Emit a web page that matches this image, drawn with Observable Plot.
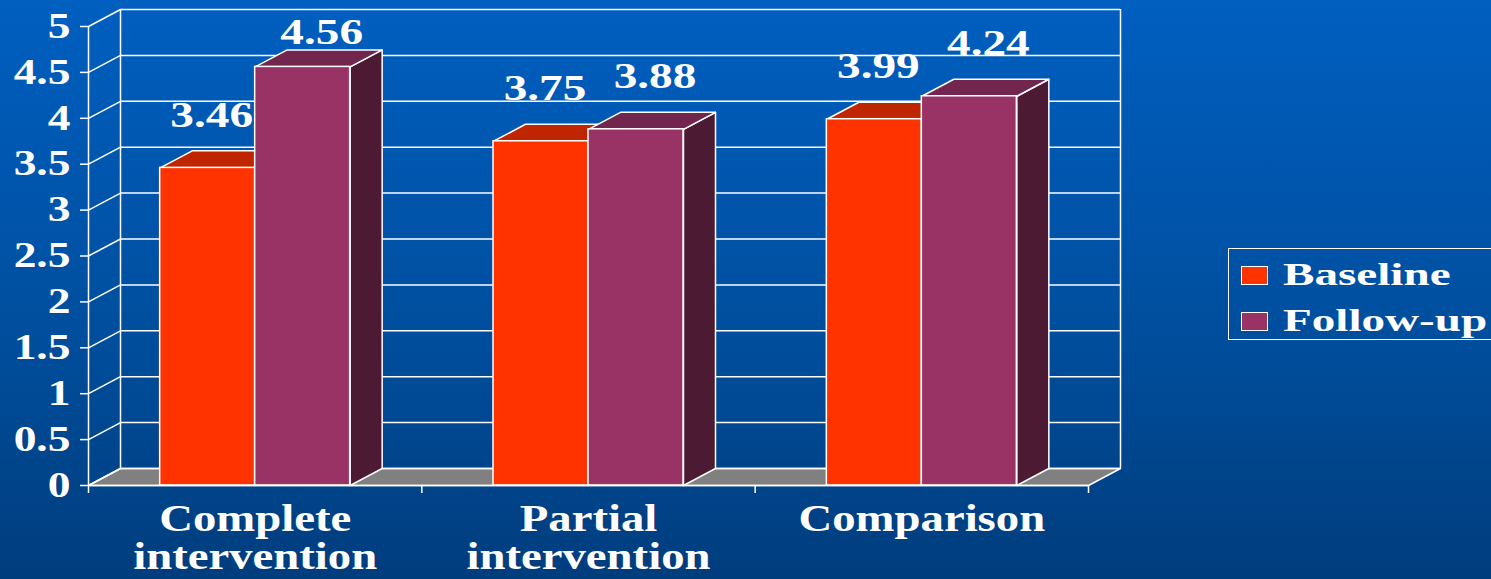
<!DOCTYPE html>
<html><head><meta charset="utf-8">
<script src="https://cdn.jsdelivr.net/npm/d3@7"></script>
<script src="https://cdn.jsdelivr.net/npm/@observablehq/plot@0.6"></script>
<style>
html,body{margin:0;padding:0;width:1491px;height:579px;overflow:hidden;background:linear-gradient(to bottom,#005fc0 0%,#004f9f 55%,#003d7d 100%);}
#chart{position:absolute;left:0;top:0;}
#legend{position:absolute;left:1228px;top:248px;width:290px;height:92px;border:1.5px solid #fff;box-sizing:border-box;font-family:"Liberation Serif","Times New Roman",serif;font-weight:bold;color:#fff;}
.item{position:absolute;left:12px;height:30px;display:flex;align-items:center;}
.sw{width:27px;height:19px;border:1.5px solid #fff;box-sizing:border-box;margin-right:15px;flex:none;}
.lab{font-size:31px;transform:scaleX(1.52);transform-origin:left center;white-space:nowrap;}
</style></head><body>
<div id="chart"></div><div id="legend"></div>
<script>
// ---- data ----
const categories = ["Complete\nintervention", "Partial\nintervention", "Comparison"];
const seriesNames = ["Baseline", "Follow-up"];
const baseline = [3.46, 3.75, 3.99];
const followUp = [4.56, 3.88, 4.24];
const yTicks = [0, 0.5, 1, 1.5, 2, 2.5, 3, 3.5, 4, 4.5, 5];
const yTickLabels = ["0", "0.5", "1", "1.5", "2", "2.5", "3", "3.5", "4", "4.5", "5"];
const xTicks = [0, 1, 2, 3];

// ---- styling / layout ----
const frontColors = ["#ff3300", "#993366"];
const topColors = ["#bf2600", "#73264d"];
const sideColors = ["#801a00", "#4d1a33"];
const font = "'Liberation Serif','Times New Roman',serif";
const W = 1491, H = 579;
const mL = 88, mR = 403, mT = 26, mB = 94;
const pxPerX = (W - mL - mR) / 3, pxPerY = (H - mT - mB) / 5;
const DX = 32 / pxPerX, DY = 17 / pxPerY;   // 3D depth in data units
const BAR_OFF = 0.215, BAR_W = 0.285;

const series = [baseline, followUp];
const marks = [];

// floor
const floor = [{x: 0, y: 0}, {x: 3, y: 0}, {x: 3 + DX, y: DY}, {x: DX, y: DY}];
marks.push(Plot.line(floor, {x: "x", y: "y", fill: "#808080", stroke: "white", strokeWidth: 1.5, curve: "linear-closed"}));
// back wall gridlines
marks.push(Plot.ruleY(yTicks, {y: d => d + DY, x1: DX, x2: 3 + DX, stroke: "white", strokeWidth: 1.5}));
// back wall verticals
marks.push(Plot.ruleX([DX, 3 + DX], {x: d => d, y1: DY, y2: 5 + DY, stroke: "white", strokeWidth: 1.5}));
// left wall diagonals
marks.push(Plot.link(yTicks, {x1: () => 0, y1: d => d, x2: () => DX, y2: d => d + DY, stroke: "white", strokeWidth: 1.5}));

// bars
series.forEach((vals, s) => {
  const sides = [], tops = [], fronts = [];
  vals.forEach((v, i) => {
    const x0 = i + BAR_OFF + s * BAR_W, x1 = x0 + BAR_W;
    const id = s + "-" + i;
    sides.push({id, x: x1, y: 0}, {id, x: x1 + DX, y: DY}, {id, x: x1 + DX, y: v + DY}, {id, x: x1, y: v});
    tops.push({id, x: x0, y: v}, {id, x: x1, y: v}, {id, x: x1 + DX, y: v + DY}, {id, x: x0 + DX, y: v + DY});
    fronts.push({x1: x0, x2: x1, v});
  });
  marks.push(Plot.line(sides, {x: "x", y: "y", z: "id", fill: sideColors[s], stroke: "white", strokeWidth: 1.5, curve: "linear-closed"}));
  marks.push(Plot.line(tops, {x: "x", y: "y", z: "id", fill: topColors[s], stroke: "white", strokeWidth: 1.5, curve: "linear-closed"}));
  marks.push(Plot.rectY(fronts, {x1: "x1", x2: "x2", y1: () => 0, y2: "v", fill: frontColors[s], stroke: "white", strokeWidth: 1.5}));
});

// front axes lines
marks.push(Plot.ruleX([0], {y1: 0, y2: 5, stroke: "white", strokeWidth: 1.5}));
marks.push(Plot.ruleY([0], {x1: 0, x2: 3, stroke: "white", strokeWidth: 1.5}));

// value labels
series.forEach((vals, s) => {
  marks.push(Plot.text(vals, {
    x: (v, i) => i + BAR_OFF + s * BAR_W + BAR_W / 2,
    y: v => Math.min(v + 0.57, 4.93),
    text: d3.format(".2f"),
    dx: s === 0 ? 4 : 19,
    fontSize: 35, fontWeight: "bold", fontFamily: font, fill: "white",
    ariaDescription: "values"
  }));
});

// axes
marks.push(Plot.axisY(yTicks, {anchor: "left", tickSize: 8, tickPadding: 10, strokeWidth: 1.5,
  tickFormat: d => yTickLabels[yTicks.indexOf(d)], fontSize: 35, fontWeight: "bold", fontFamily: font, color: "white"}));
marks.push(Plot.axisX(xTicks, {anchor: "bottom", tickSize: 8, strokeWidth: 1.5, tickFormat: () => "", color: "white"}));
marks.push(Plot.text(categories, {
  x: (d, i) => i + 0.5, y: () => 0, text: d => d, dy: 19, lineAnchor: "top", lineHeight: 1.0,
  fontSize: 38, fontWeight: "bold", fontFamily: font, fill: "white", ariaDescription: "cats"
}));

const chart = Plot.plot({
  width: W, height: H,
  marginLeft: mL, marginRight: mR, marginTop: mT, marginBottom: mB,
  x: {domain: [0, 3]},
  y: {domain: [0, 5]},
  style: {background: "transparent", color: "white", overflow: "visible"},
  marks
});
document.getElementById("chart").appendChild(chart);

// horizontal stretch of text as in the original slide
function stretch(sel, s) {
  chart.querySelectorAll(sel).forEach(t => {
    t.setAttribute("transform", (t.getAttribute("transform") || "") + ` scale(${s},1)`);
  });
}
stretch('g[aria-label="y-axis tick label"] text', 1.3);
stretch('g[aria-description="values"] text', 1.35);
stretch('g[aria-description="cats"] text', 1.23);

// legend
const legend = document.getElementById("legend");
seriesNames.forEach((name, s) => {
  const item = document.createElement("div");
  item.className = "item";
  item.style.top = (11 + s * 46) + "px";
  item.innerHTML = `<div class="sw" style="background:${frontColors[s]}"></div><span class="lab">${name}</span>`;
  legend.appendChild(item);
});
</script></body></html>
